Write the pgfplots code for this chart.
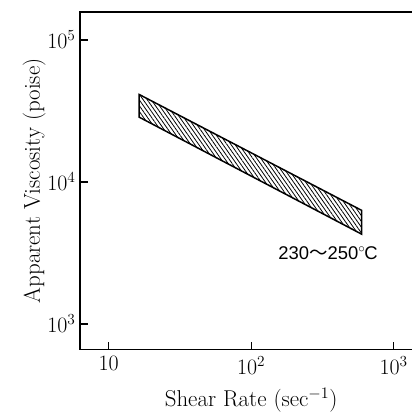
\RequirePackage{fix-cm}
\documentclass[border=0pt]{standalone}
\usepackage{fontspec}
\usepackage{pgfplots}
\pgfplotsset{compat=1.18}
\usetikzlibrary{patterns.meta}
\newfontfamily\sansf{Liberation Sans}
\newfontfamily\cjk{Noto Sans CJK JP}
\begin{document}
\begin{tikzpicture}
\begin{axis}[
  at={(0,0)}, anchor=south west,
  scale only axis,
  width=342.2bp, height=337.7bp,
  xmode=log, ymode=log,
  xmin=6.3, xmax=1584.9,
  ymin=659, ymax=157400,
  axis line style={line width=1.6bp},
  tick style={line width=1.2bp, black},
  major tick length=8bp,
  tick align=inside,
  xtick={10,100,1000},
  xticklabels={$10$,$10^2$,$10^3$},
  ytick={1000,10000,100000},
  yticklabels={$10^3$,$10^4$,$10^5$},
  xminorticks=false, yminorticks=false,
  log ticks with fixed point=false,
  xtick pos=bottom, ytick pos=left,
  ticklabel style={font=\fontsize{22}{24}\selectfont},
  xticklabel style={yshift=-3bp},
  yticklabel style={xshift=-1bp},
  xlabel={Shear Rate (sec$^{-1}$)},
  ylabel={Apparent Viscosity (poise)},
  label style={font=\fontsize{23}{26}\selectfont},
  xlabel style={yshift=-7bp},
  ylabel style={yshift=-5bp},
  clip=false,
]
\addplot[draw=black, line width=1.5bp,
  pattern={Lines[angle=-55, distance=3.3bp, line width=0.8bp]}]
  coordinates {(16.4,41300) (596,6310) (596,4290) (16.4,28600)} -- cycle;
\node[font=\sansf\fontsize{18.5}{20}\selectfont, inner sep=0pt]
  at (axis cs:346,3150) {230{\cjk ～}250\raisebox{0.05em}{$^\circ$}\kern-0.05em C};
\end{axis}
\pgfresetboundingbox
\path (-80bp,-63.3bp) rectangle (332bp,349.7bp);
\end{tikzpicture}
\end{document}
